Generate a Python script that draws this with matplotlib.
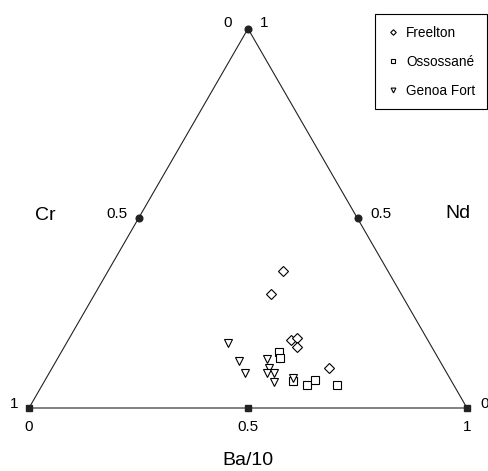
import numpy as np
import matplotlib
matplotlib.use('Agg')
import matplotlib.pyplot as plt

plt.rcParams['font.family'] = ['Liberation Sans', 'DejaVu Sans']

# Composiciones ternarias (fracciones)
freelton_ba = [0.398, 0.402, 0.509, 0.519, 0.530, 0.633]
freelton_nd = [0.362, 0.300, 0.179, 0.185, 0.162, 0.105]
freelton_cr = [0.240, 0.298, 0.312, 0.296, 0.308, 0.262]

ossossane_ba = [0.497, 0.507, 0.567, 0.604, 0.616, 0.673]
ossossane_nd = [0.148, 0.132, 0.072, 0.061, 0.074, 0.061]
ossossane_cr = [0.355, 0.361, 0.361, 0.335, 0.310, 0.266]

genoa_ba = [0.368, 0.417, 0.447, 0.479, 0.496, 0.496, 0.513, 0.525, 0.564]
genoa_nd = [0.172, 0.124, 0.093, 0.128, 0.106, 0.093, 0.093, 0.069, 0.078]
genoa_cr = [0.460, 0.459, 0.460, 0.393, 0.398, 0.411, 0.394, 0.406, 0.358]

series_names = ['Freelton', 'Ossossané', 'Genoa Fort']
tick_vals = [0, 0.5, 1]


def to_xy(ba, nd, cr):
    ba = np.asarray(ba, float)
    nd = np.asarray(nd, float)
    cr = np.asarray(cr, float)
    s = ba + nd + cr
    ba, nd = ba / s, nd / s
    return ba + nd / 2, nd * np.sqrt(3) / 2


fig = plt.figure(figsize=(4.88, 4.71), dpi=100)
ax = fig.add_axes([0, 0, 1, 1])
ax.set_xlim(-29 / 438, 459 / 438)
ax.set_ylim(-63 / 438, 408 / 438)
ax.axis('off')

h = np.sqrt(3) / 2
lc = '#222222'
ax.plot([0, 1, 0.5, 0], [0, 0, h, 0], color=lc, lw=0.8, zorder=1)

# marcas de los ejes
ax.plot(tick_vals, [0, 0, 0], 's', color=lc, ms=3.8, zorder=2)
ax.plot([0.25, 0.5, 0.75], [h / 2, h, h / 2], 'o', color=lc, ms=4.8, zorder=2)

fs_t = 11
# eje inferior Ba/10
for v in tick_vals:
    ax.text(v, -0.0434, f'{v:g}', ha='center', va='center', fontsize=fs_t)
ax.text(0.5, -0.119, 'Ba/10', ha='center', va='center', fontsize=14)
# eje izquierdo Cr
ax.text(-0.025, 0.0091, '1', ha='right', va='center', fontsize=fs_t)
ax.text(0.201, 0.443, '0.5', ha='center', va='center', fontsize=fs_t)
ax.text(0.454, 0.879, '0', ha='center', va='center', fontsize=fs_t)
ax.text(0.0365, 0.440, 'Cr', ha='center', va='center', fontsize=14)
# eje derecho Nd
ax.text(0.537, 0.879, '1', ha='center', va='center', fontsize=fs_t)
ax.text(0.804, 0.443, '0.5', ha='center', va='center', fontsize=fs_t)
ax.text(1.03, 0.0091, '0', ha='left', va='center', fontsize=fs_t)
ax.text(0.979, 0.443, 'Nd', ha='center', va='center', fontsize=14)

mk = dict(linestyle='none', mfc='white', mec='black', mew=0.8, zorder=3)
x, y = to_xy(freelton_ba, freelton_nd, freelton_cr)
ax.plot(x, y, 'D', ms=5.1, label=series_names[0], **mk)
x, y = to_xy(ossossane_ba, ossossane_nd, ossossane_cr)
ax.plot(x, y, 's', ms=5.3, label=series_names[1], **mk)
x, y = to_xy(genoa_ba, genoa_nd, genoa_cr)
ax.plot(x, y, 'v', ms=6.3, label=series_names[2], **mk)

leg = ax.legend(loc='upper right', bbox_to_anchor=(487 / 488, 1 - 14 / 471),
                bbox_transform=fig.transFigure, borderaxespad=0,
                fontsize=9.8, markerscale=0.55, handlelength=0.9,
                handletextpad=0.55, labelspacing=1.1, borderpad=0.85,
                fancybox=False, framealpha=1)
leg.get_frame().set_edgecolor('black')
leg.get_frame().set_linewidth(0.8)

fig.savefig('out.png', dpi=100)
